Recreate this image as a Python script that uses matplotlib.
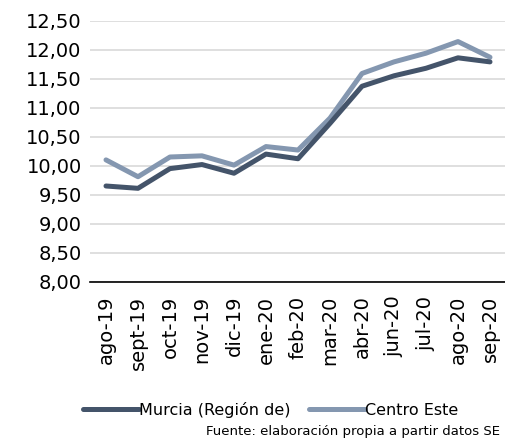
import matplotlib
matplotlib.use("Agg")
import matplotlib.pyplot as plt

categories = ["ago-19", "sept-19", "oct-19", "nov-19", "dic-19", "ene-20", "feb-20",
              "mar-20", "abr-20", "jun-20", "jul-20", "ago-20", "sep-20"]
murcia = [9.65, 9.61, 9.95, 10.02, 9.87, 10.20, 10.12, 10.73, 11.37, 11.55, 11.68, 11.86, 11.79]
centro = [10.10, 9.81, 10.15, 10.17, 10.01, 10.33, 10.27, 10.82, 11.59, 11.79, 11.94, 12.14, 11.87]
yticks = [8.0, 8.5, 9.0, 9.5, 10.0, 10.5, 11.0, 11.5, 12.0, 12.5]
ytick_labels = ["8,00", "8,50", "9,00", "9,50", "10,00", "10,50", "11,00", "11,50", "12,00", "12,50"]

plt.rcParams['font.family'] = ['DejaVu Sans']
fig = plt.figure(figsize=(5.06, 4.42), dpi=100)
ax = fig.add_axes([90/506, 1 - 281.7/442, 416/506, 261/442])

x = list(range(len(categories)))
ax.plot(x, centro, color="#8497B0", lw=3.6, solid_capstyle="round", zorder=3, label="Centro Este")
ax.plot(x, murcia, color="#44546A", lw=3.6, solid_capstyle="round", zorder=4, label="Murcia (Región de)")

ax.set_xlim(-0.5, len(categories) - 0.5)
ax.set_ylim(8.0, 12.5)
ax.set_yticks(yticks)
ax.set_yticklabels(ytick_labels, fontsize=14)
ax.set_xticks(x)
ax.set_xticklabels(categories, rotation=90, fontsize=14)
ax.tick_params(axis="both", length=0, pad=6)
ax.tick_params(axis="x", pad=10)
ax.grid(axis="y", color="#D9D9D9", lw=1.2)
ax.set_axisbelow(True)
for s in ["left", "right", "top"]:
    ax.spines[s].set_visible(False)
ax.spines["bottom"].set_color("#000000")
ax.spines["bottom"].set_linewidth(1.2)
ax.spines["bottom"].set_zorder(5)

handles, labels = ax.get_legend_handles_labels()
leg = fig.legend(handles[::-1], labels[::-1], loc="center", bbox_to_anchor=(0.535, 1 - 410/442), ncol=2,
                 frameon=False, fontsize=11.5, handlelength=3.5, handletextpad=0.0, columnspacing=1.2)
fig.text(500/506, 1 - 432/442, "Fuente: elaboración propia a partir datos SE", ha="right", va="center", fontsize=9.5)

fig.savefig("out.png", dpi=100)
